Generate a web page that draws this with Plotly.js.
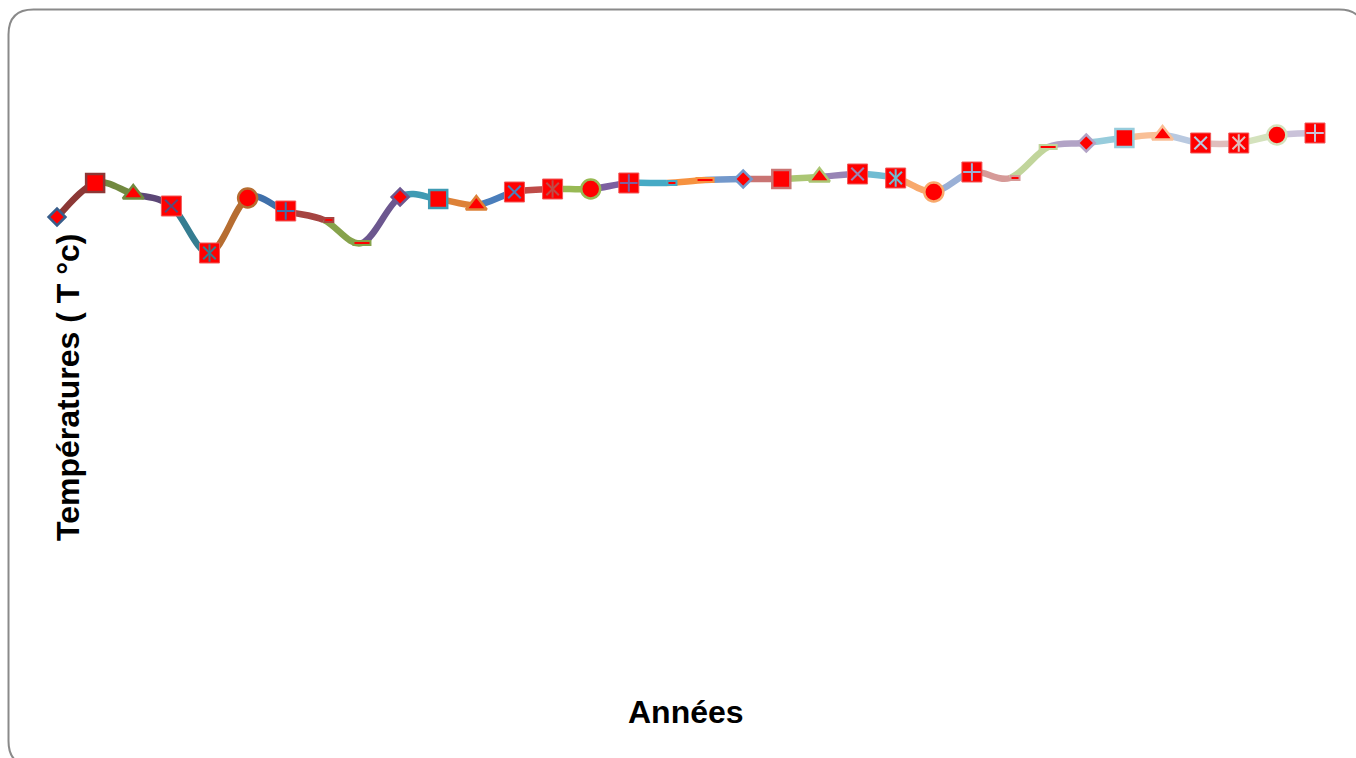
<!DOCTYPE html>
<html>
<head>
<meta charset="utf-8">
<script src="https://cdn.plot.ly/plotly-3.0.1.min.js"></script>
<style>
  html, body { margin: 0; padding: 0; background: #ffffff; }
  #graphique { width: 1356px; height: 758px; }
</style>
</head>
<body>
<div id="graphique"></div>
<script>
// Températures annuelles moyennes (°C)
const annees = [1980, 1981, 1982, 1983, 1984, 1985, 1986, 1987, 1988, 1989,
                1990, 1991, 1992, 1993, 1994, 1995, 1996, 1997, 1998, 1999,
                2000, 2001, 2002, 2003, 2004, 2005, 2006, 2007, 2008, 2009,
                2010, 2011, 2012, 2013];
const temperatures = [17.03, 17.37, 17.26, 17.14, 16.67, 17.22, 17.09, 17.00, 16.77, 17.23,
                      17.21, 17.15, 17.28, 17.31, 17.31, 17.37, 17.37, 17.40, 17.41, 17.41,
                      17.43, 17.46, 17.42, 17.28, 17.48, 17.42, 17.73, 17.77, 17.82, 17.85,
                      17.77, 17.77, 17.85, 17.87];

// Couleur propre à chaque point (le segment qui arrive au point prend la même couleur)
const couleurs = [
  '#385D8A', '#8C3836', '#71893F', '#5C4776', '#357D91', '#B66D31',
  '#4070AA', '#A54441', '#86A24B', '#6C578F', '#3F9AB3', '#DD8138',
  '#4A7EBB', '#BE4B48', '#98B954', '#7D60A0', '#46AAC5', '#F69240',
  '#7398CB', '#C97473', '#ABC674', '#9884B5', '#70BCD2', '#F8A96C',
  '#9AB0D6', '#D69A98', '#C1D59B', '#B2A3C6', '#97CCDC', '#F9BF96',
  '#B9C9E0', '#E0BEBD', '#D4E2BD', '#CAC2D9'
];

// Cycle des marqueurs
const cycleMarqueurs = ['losange', 'carre', 'triangle', 'carreX', 'carreEtoile',
                        'cercle', 'carrePlus', 'tiretCourt', 'tiretLong'];

const n = annees.length;
const marqueur = i => cycleMarqueurs[i % cycleMarqueurs.length];

// Zone de tracé en pixels
const L = 57, R = 41, T = 20, B = 38, W = 1356, H = 758;
const plotW = W - L - R, plotH = H - T - B;
const px = v => (v - L) / plotW;
const py = v => (H - B - v) / plotH;

const shapes = [];

// Cadre arrondi autour du graphique
(function () {
  const l = 8.5, t = 9.5, r = 1364, b = 766, k = 25;
  const P = (x, y) => px(x).toFixed(5) + ',' + py(y).toFixed(5);
  const path = 'M' + P(l + k, t) + ' L' + P(r - k, t) + ' Q' + P(r, t) + ' ' + P(r, t + k) +
    ' L' + P(r, b - k) + ' Q' + P(r, b) + ' ' + P(r - k, b) +
    ' L' + P(l + k, b) + ' Q' + P(l, b) + ' ' + P(l, b - k) +
    ' L' + P(l, t + k) + ' Q' + P(l, t) + ' ' + P(l + k, t) + ' Z';
  shapes.push({ type: 'path', xref: 'paper', yref: 'paper', path: path,
    line: { color: '#8A8A8A', width: 2 }, layer: 'below' });
})();

// Courbe lissée : un segment de Bézier par intervalle, coloré selon le point d'arrivée
for (let i = 0; i < n - 1; i++) {
  const p0 = i > 0 ? i - 1 : i;
  const p3 = i + 2 < n ? i + 2 : i + 1;
  const x1 = annees[i], y1 = temperatures[i];
  const x2 = annees[i + 1], y2 = temperatures[i + 1];
  const c1x = x1 + (x2 - annees[p0]) / 6, c1y = y1 + (y2 - temperatures[p0]) / 6;
  const c2x = x2 - (annees[p3] - x1) / 6, c2y = y2 - (temperatures[p3] - y1) / 6;
  shapes.push({
    type: 'path', xref: 'x', yref: 'y', layer: 'below',
    path: 'M' + x1 + ',' + y1 + ' C' + c1x + ',' + c1y + ' ' + c2x + ',' + c2y + ' ' + x2 + ',' + y2,
    line: { color: couleurs[i + 1], width: 6.5 }
  });
}

// Marqueurs « tiret » (barres rouges bordées de la couleur du point)
for (let i = 0; i < n; i++) {
  const m = marqueur(i);
  if (m !== 'tiretCourt' && m !== 'tiretLong') continue;
  const court = m === 'tiretCourt';
  shapes.push({
    type: 'rect', xref: 'x', yref: 'y', layer: 'above',
    xsizemode: 'pixel', ysizemode: 'pixel',
    xanchor: annees[i], yanchor: temperatures[i],
    x0: court ? 0.5 : -8.5, x1: court ? 9.5 : 8.5, y0: -2, y1: 2,
    fillcolor: '#FF0000', line: { color: couleurs[i], width: 2 }
  });
}

// Marqueurs pleins
const base = { x: [], y: [], symbol: [], size: [], lc: [], lw: [] };
const glyphes = {
  'x-thin-open': { x: [], y: [], c: [] },
  'line-ns-open': { x: [], y: [], c: [] },
  'cross-thin-open': { x: [], y: [], c: [] }
};
const ajoutGlyphe = (s, i) => { glyphes[s].x.push(annees[i]); glyphes[s].y.push(temperatures[i]); glyphes[s].c.push(couleurs[i]); };

for (let i = 0; i < n; i++) {
  const m = marqueur(i);
  if (m === 'tiretCourt' || m === 'tiretLong') continue;
  base.x.push(annees[i]);
  base.y.push(temperatures[i]);
  if (m === 'losange') { base.symbol.push('diamond'); base.size.push(13); base.lc.push(couleurs[i]); base.lw.push(2.5); }
  else if (m === 'carre') { base.symbol.push('square'); base.size.push(18); base.lc.push(couleurs[i]); base.lw.push(2.5); }
  else if (m === 'triangle') { base.symbol.push('triangle-up'); base.size.push(18); base.lc.push(couleurs[i]); base.lw.push(2.5); }
  else if (m === 'cercle') { base.symbol.push('circle'); base.size.push(19); base.lc.push(couleurs[i]); base.lw.push(2.5); }
  else {
    base.symbol.push('square'); base.size.push(20); base.lc.push('#F05A5A'); base.lw.push(1);
    if (m === 'carreX') ajoutGlyphe('x-thin-open', i);
    if (m === 'carreEtoile') { ajoutGlyphe('x-thin-open', i); ajoutGlyphe('line-ns-open', i); }
    if (m === 'carrePlus') ajoutGlyphe('cross-thin-open', i);
  }
}

const traces = [{
  type: 'scatter', mode: 'markers', x: base.x, y: base.y, hoverinfo: 'skip', cliponaxis: false,
  marker: { symbol: base.symbol, size: base.size, color: '#FF0000', opacity: 1,
            line: { color: base.lc, width: base.lw } }
}];
Object.keys(glyphes).forEach(s => {
  traces.push({
    type: 'scatter', mode: 'markers', x: glyphes[s].x, y: glyphes[s].y, hoverinfo: 'skip', cliponaxis: false,
    marker: { symbol: s, size: 12.5, color: glyphes[s].c, opacity: 1, line: { width: 2 } }
  });
});

const policeTitre = { family: 'Liberation Sans, Arial, sans-serif', size: 32, color: '#000000', weight: 'bold' };

const layout = {
  width: W, height: H,
  margin: { l: L, r: R, t: T, b: B },
  paper_bgcolor: '#ffffff', plot_bgcolor: 'rgba(0,0,0,0)',
  showlegend: false,
  xaxis: { range: [annees[0], annees[n - 1]], visible: false, showgrid: false, zeroline: false },
  yaxis: { range: [12, 19], visible: false, showgrid: false, zeroline: false },
  shapes: shapes,
  annotations: [
    { text: 'Températures ( T °c)', xref: 'paper', yref: 'paper', x: px(68), y: py(388),
      xanchor: 'center', yanchor: 'middle', textangle: -90, showarrow: false, font: policeTitre },
    { text: 'Années', xref: 'paper', yref: 'paper', x: px(686), y: py(712),
      xanchor: 'center', yanchor: 'middle', showarrow: false, font: policeTitre }
  ]
};

Plotly.newPlot('graphique', traces, layout, { displayModeBar: false, staticPlot: true });
</script>
</body>
</html>
